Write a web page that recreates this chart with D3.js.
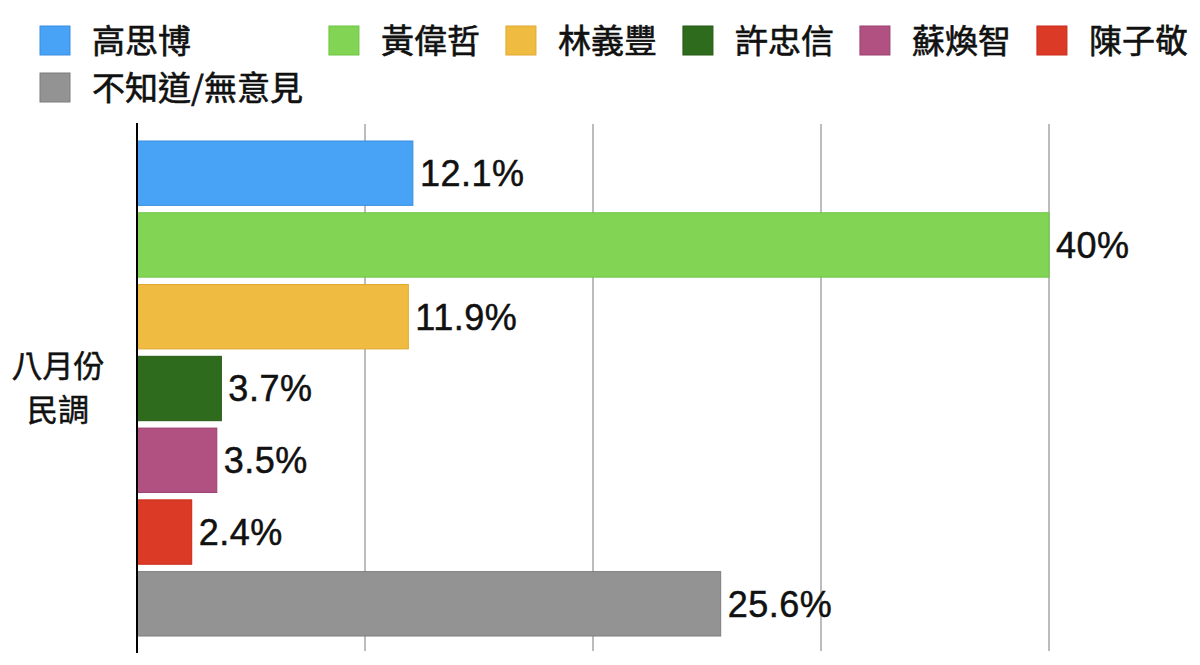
<!DOCTYPE html>
<html>
<head>
<meta charset="utf-8">
<script src="https://cdn.jsdelivr.net/npm/d3@7"></script>
<style>
  body { margin: 0; background: #fff; }
  svg { display: block; }
</style>
</head>
<body>
<svg id="chart" width="1200" height="665"></svg>
<script>
// poll data
var names = ['高思博', '黃偉哲', '林義豐', '許忠信', '蘇煥智', '陳子敬', '不知道/無意見']
var values = [12.1, 40, 11.9, 3.7, 3.5, 2.4, 25.6]
var labels = ['12.1%', '40%', '11.9%', '3.7%', '3.5%', '2.4%', '25.6%']
var colors = ['#48a2f6', '#82d455', '#efbb41', '#2f6b1d', '#b15181', '#db3a26', '#939393']
var strokes = ['#3b8ee0', '#6cc444', '#e0a830', '#245a15', '#9c4070', '#c92a18', '#7d7d7d']
var ticks = [0, 10, 20, 30, 40]
var category = ['八月份', '民調']

var cjk = '"Noto Sans CJK TC", "Noto Sans CJK SC", sans-serif'
var num = '"Liberation Sans", Arial, sans-serif'

var svg = d3.select('#chart')

var x = d3.scaleLinear().domain([0, 40]).range([137, 1049])
var y = d3.scaleBand()
  .domain(d3.range(names.length))
  .range([137.4, 639.6])
  .paddingInner(0.103)
  .paddingOuter(0.05)

// grid lines
svg.selectAll('line.grid')
  .data(ticks.slice(1))
  .enter().append('line')
  .attr('class', 'grid')
  .attr('x1', function (d) { return x(d) })
  .attr('x2', function (d) { return x(d) })
  .attr('y1', 124)
  .attr('y2', 651)
  .attr('stroke', '#bcbcbc')
  .attr('stroke-width', 2)

// bars
svg.selectAll('rect.bar')
  .data(values)
  .enter().append('rect')
  .attr('class', 'bar')
  .attr('x', x(0))
  .attr('y', function (d, i) { return y(i) })
  .attr('width', function (d) { return x(d) - x(0) })
  .attr('height', y.bandwidth())
  .attr('fill', function (d, i) { return colors[i] })
  .attr('stroke', function (d, i) { return strokes[i] })
  .attr('stroke-width', 1)

// value labels
svg.selectAll('text.val')
  .data(values)
  .enter().append('text')
  .attr('class', 'val')
  .attr('x', function (d) { return x(d) + 7 })
  .attr('y', function (d, i) { return y(i) + y.bandwidth() / 2 })
  .attr('dy', '0.36em')
  .style('font-family', num)
  .style('font-size', '36px')
  .style('letter-spacing', '0.5px')
  .attr('fill', '#111')
  .attr('stroke', '#111')
  .attr('stroke-width', 0.5)
  .text(function (d, i) { return labels[i] })

// axis line
svg.append('line')
  .attr('x1', x(0)).attr('x2', x(0))
  .attr('y1', 123).attr('y2', 653)
  .attr('stroke', '#000')
  .attr('stroke-width', 2)

// category label
var mid = (y.range()[0] + y.range()[1]) / 2
svg.append('text')
  .attr('x', 58)
  .attr('y', mid)
  .attr('text-anchor', 'middle')
  .style('font-family', cjk)
  .style('font-size', '31px')
  .attr('fill', '#111')
  .attr('stroke', '#111')
  .attr('stroke-width', 0.5)
  .selectAll('tspan')
  .data(category)
  .enter().append('tspan')
  .attr('x', 58)
  .attr('dy', function (d, i) { return i === 0 ? '-0.36em' : '1.4em' })
  .text(function (d) { return d })

// legend: grid of 6 columns, column width set by widest entry
var perRow = 6
var legend = svg.append('g')
var items = legend.selectAll('g')
  .data(names)
  .enter().append('g')

items.append('rect')
  .attr('width', 30)
  .attr('height', 29)
  .attr('y', -15)
  .attr('fill', function (d, i) { return colors[i] })
  .attr('stroke', function (d, i) { return strokes[i] })
  .attr('stroke-width', 1)

items.append('text')
  .attr('x', 52)
  .attr('dy', '0.36em')
  .style('font-family', cjk)
  .style('font-size', '33px')
  .attr('fill', '#111')
  .attr('stroke', '#111')
  .attr('stroke-width', 0.6)
  .text(function (d) { return d })

var widths = []
items.selectAll('text').each(function () {
  widths.push(this.getComputedTextLength())
})
var colW = []
for (let c = 0; c < perRow; c++) {
  var w = 0
  for (let i = c; i < names.length; i += perRow) w = Math.max(w, widths[i])
  colW.push(w)
}
var colX = [40]
for (let c = 1; c < perRow; c++) colX.push(colX[c - 1] + 52 + colW[c - 1] + 26)

items.attr('transform', function (d, i) {
  return 'translate(' + colX[i % perRow] + ',' + (41 + Math.floor(i / perRow) * 47) + ')'
})
</script>
</body>
</html>
